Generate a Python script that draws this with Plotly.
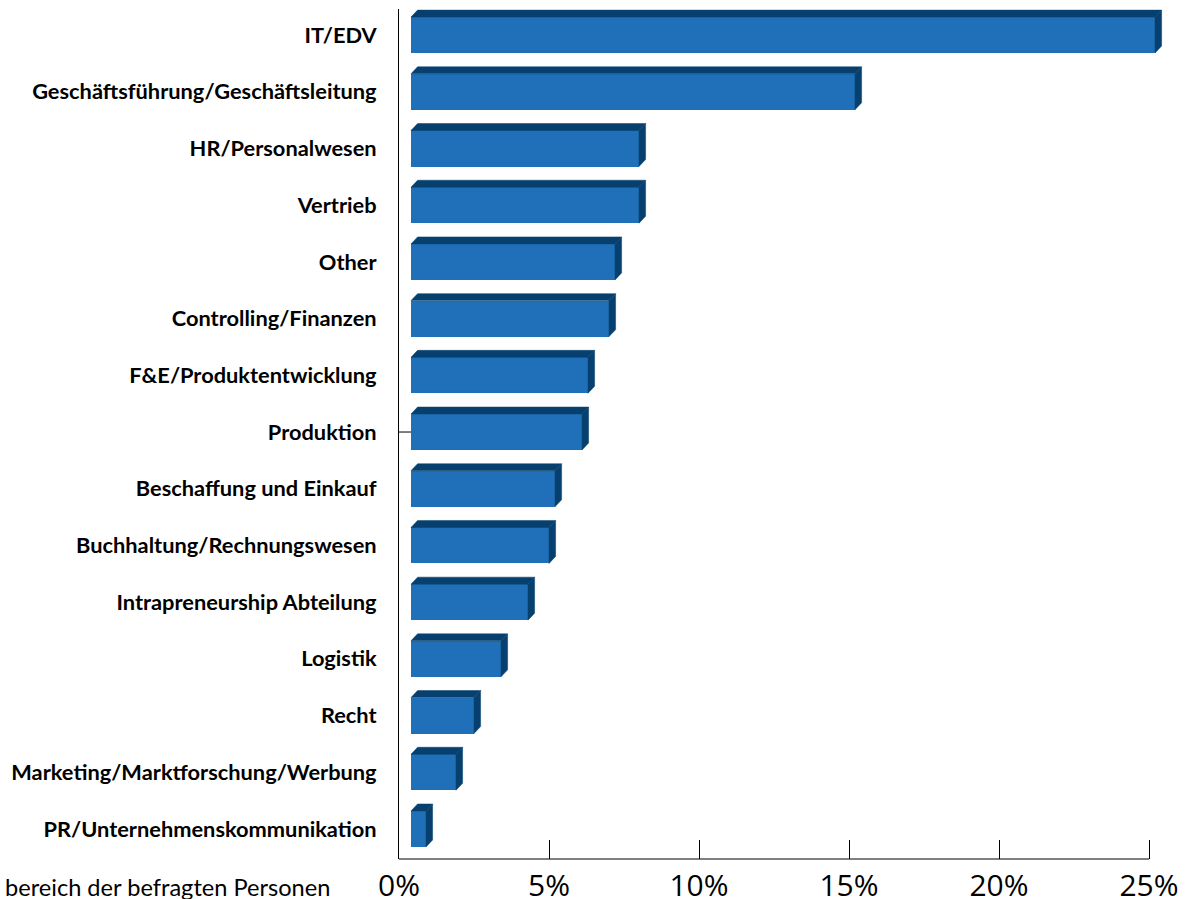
import plotly.graph_objects as go

categories = [
    "IT/EDV",
    "Geschäftsführung/Geschäftsleitung",
    "HR/Personalwesen",
    "Vertrieb",
    "Other",
    "Controlling/Finanzen",
    "F&E/Produktentwicklung",
    "Produktion",
    "Beschaffung und Einkauf",
    "Buchhaltung/Rechnungswesen",
    "Intrapreneurship Abteilung",
    "Logistik",
    "Recht",
    "Marketing/Marktforschung/Werbung",
    "PR/Unternehmenskommunikation",
]
values = [24.8, 14.8, 7.6, 7.6, 6.8, 6.6, 5.9, 5.7, 4.8, 4.6, 3.9, 3.0, 2.1, 1.5, 0.5]
x_tickvals = [0, 5, 10, 15, 20, 25]
x_ticktext = ["0%", "5%", "10%", "15%", "20%", "25%"]
axis_title = "bereich der befragten Personen"

# style constants for the pseudo-3D look
FRONT = "#1f70b8"
DARK = "#07406e"
BASE = 0.4      # depth offset of the front face (in % units)
BAR_W = 0.635   # bar thickness in category units
DX = 0.22       # depth skew along x (% units)
DY = 0.123      # depth skew along y (category units)

idx = list(range(len(categories)))

fig = go.Figure()

# top faces and side faces built from the values
top_x, top_y, side_x, side_y = [], [], [], []
for i, v in zip(idx, values):
    y_top = i - BAR_W / 2
    y_bot = i + BAR_W / 2
    x0 = BASE
    x1 = BASE + v
    top_x += [x0, x0 + DX, x1 + DX, x1, x0, None]
    top_y += [y_top, y_top - DY, y_top - DY, y_top, y_top, None]
    side_x += [x1, x1 + DX, x1 + DX, x1, x1, None]
    side_y += [y_top, y_top - DY, y_bot - DY, y_bot, y_top, None]

fig.add_trace(go.Bar(
    x=values, y=idx, base=BASE, orientation="h", width=BAR_W,
    marker=dict(color=FRONT, line=dict(width=0)),
    hoverinfo="skip", showlegend=False, cliponaxis=False,
))
fig.add_trace(go.Scatter(
    x=top_x, y=top_y, mode="lines", fill="toself", fillcolor=DARK,
    line=dict(color=DARK, width=0.5), hoverinfo="skip", showlegend=False,
))
fig.add_trace(go.Scatter(
    x=side_x, y=side_y, mode="lines", fill="toself", fillcolor=DARK,
    line=dict(color=DARK, width=0.5), hoverinfo="skip", showlegend=False,
))

# bottom axis line (0 to 25 %)
fig.add_shape(type="line", xref="x", yref="paper", x0=0, x1=25, y0=0, y1=0,
              line=dict(color="black", width=1.2))
# single tick at the category axis
fig.add_shape(type="line", xref="x", yref="y", x0=0, x1=BASE, y0=7, y1=7,
              line=dict(color="black", width=1))

PLOT_W = 1195 - 399 - 28
fig.add_annotation(
    text=axis_title, xref="paper", yref="paper", x=(3 - 399) / PLOT_W, y=-0.033,
    xanchor="left", yanchor="middle", showarrow=False,
    font=dict(family="Lato", size=23.6, color="black"),
)

fig.update_layout(
    width=1195, height=899,
    margin=dict(l=399, r=28, t=9, b=40, autoexpand=False),
    paper_bgcolor="white", plot_bgcolor="white",
    bargap=0,
    xaxis=dict(
        range=[0, 25.6], tickvals=x_tickvals, ticktext=x_ticktext,
        showgrid=False, zeroline=False, showline=False, automargin=False,
        ticks="inside", ticklen=19, tickcolor="black", tickwidth=1,
        tickfont=dict(family="Open Sans", size=30, color="black"),
        ticklabelstandoff=6,
    ),
    yaxis=dict(
        range=[14.53, -0.46], tickvals=idx, ticktext=categories,
        showgrid=False, zeroline=False, showline=True, linecolor="black", linewidth=1,
        automargin=False,
        ticks="", tickfont=dict(family="Lato", size=21.8, color="black", weight="bold"),
        ticklabelstandoff=17,
    ),
)

fig.write_html(
    "out.html",
    config={"displayModeBar": False},
    post_script="document.body.style.margin='0px';document.body.style.overflow='hidden';",
)
